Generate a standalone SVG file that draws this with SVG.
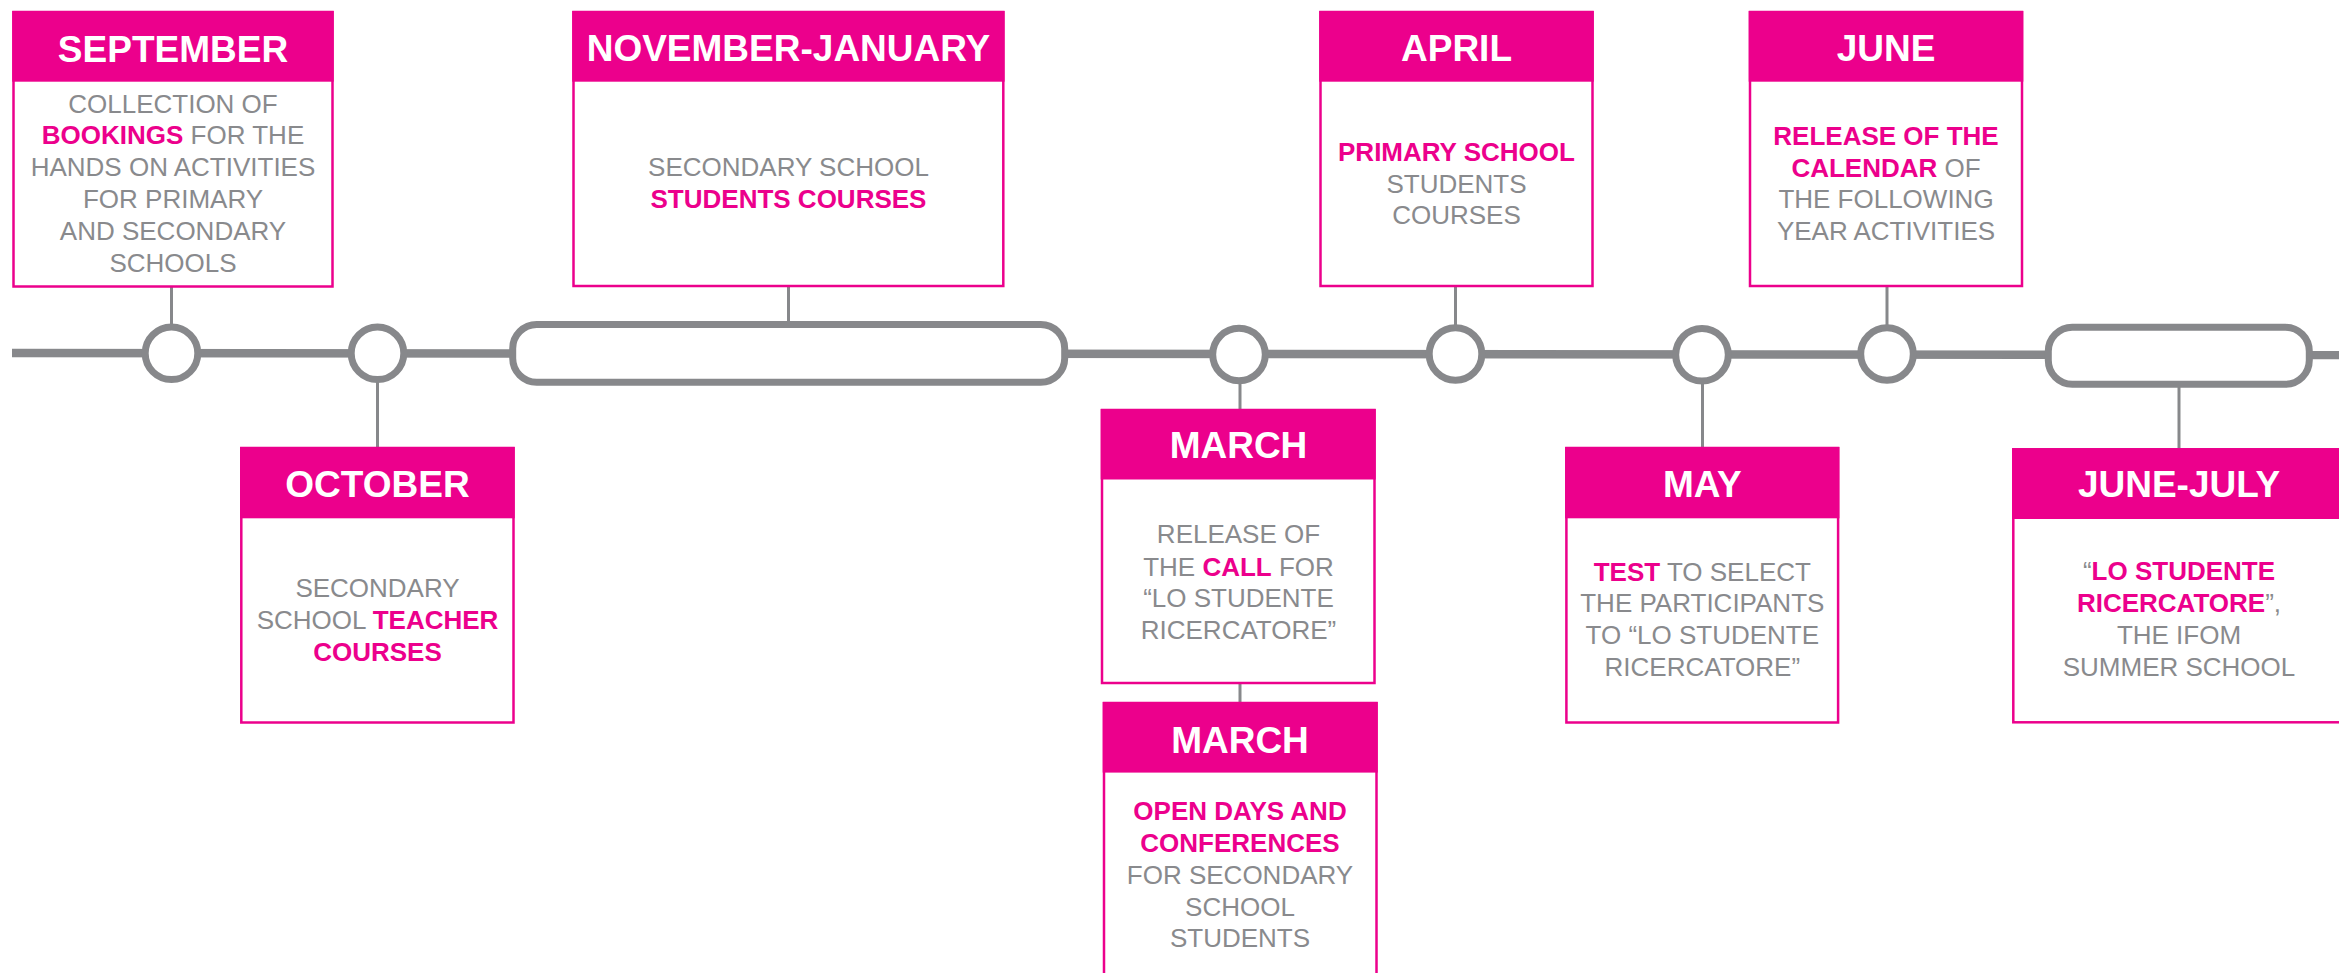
<svg xmlns="http://www.w3.org/2000/svg" width="2339" height="973" viewBox="0 0 2339 973">
<style>
.box{fill:#fff;stroke:#EC008C;stroke-width:2.5}
.hdr{fill:#EC008C}
.ht{font-family:"Liberation Sans",Arial,sans-serif;font-weight:bold;font-size:37px;fill:#fff;text-anchor:middle}
.bt{font-family:"Liberation Sans",Arial,sans-serif;font-size:26px;fill:#898A8D;text-anchor:middle}
.pk{font-weight:bold;fill:#EC008C}
.tl{stroke:#87888B;stroke-width:8.5;fill:none}
.node{fill:#fff;stroke:#87888B;stroke-width:7}
.con{stroke:#87888B;stroke-width:3;fill:none}
</style>
<rect width="2339" height="973" fill="#fff"/>
<g id="connectors">
<line class="tl" x1="12" y1="353" x2="2339" y2="355"/>
<line class="con" x1="171.5" y1="286" x2="171.5" y2="326"/>
<line class="con" x1="377.5" y1="380" x2="377.5" y2="447"/>
<line class="con" x1="788.5" y1="286" x2="788.5" y2="324"/>
<line class="con" x1="1240" y1="380" x2="1240" y2="409"/>
<line class="con" x1="1240" y1="684" x2="1240" y2="702"/>
<line class="con" x1="1455.5" y1="286" x2="1455.5" y2="327"/>
<line class="con" x1="1702.5" y1="381" x2="1702.5" y2="447"/>
<line class="con" x1="1887" y1="286" x2="1887" y2="327"/>
<line class="con" x1="2179" y1="385" x2="2179" y2="448"/>
</g>
<g id="timeline-markers">
<circle id="m-sep" class="node" cx="171.5" cy="353.3" r="26.3"/>
<circle id="m-oct" class="node" cx="377.5" cy="353.3" r="26.3"/>
<rect id="m-novjan" class="node" x="512.7" y="324.5" width="552" height="57.7" rx="24"/>
<circle id="m-mar" class="node" cx="1239" cy="354.5" r="26.3"/>
<circle id="m-apr" class="node" cx="1455.5" cy="354" r="26.3"/>
<circle id="m-may" class="node" cx="1702" cy="354.8" r="26.3"/>
<circle id="m-jun" class="node" cx="1887" cy="354" r="26.3"/>
<rect id="m-junjul" class="node" x="2048.3" y="327.3" width="261" height="57" rx="24"/>
</g>
<g id="september">
<rect class="box" x="13.5" y="12" width="319" height="274.5"/>
<rect class="hdr" x="12.2" y="11" width="321.5" height="70.7"/>
<text class="ht" x="173" y="61.5">SEPTEMBER</text>
<text class="bt" x="173" y="112.7">COLLECTION OF</text>
<text class="bt" x="173" y="144.3"><tspan class="pk">BOOKINGS</tspan> FOR THE</text>
<text class="bt" x="173" y="176">HANDS ON ACTIVITIES</text>
<text class="bt" x="173" y="208.3">FOR PRIMARY</text>
<text class="bt" x="173" y="240">AND SECONDARY</text>
<text class="bt" x="173" y="271.7">SCHOOLS</text>
</g>
<g id="october">
<rect class="box" x="241.3" y="448" width="272.2" height="274.5"/>
<rect class="hdr" x="240" y="447" width="274.7" height="71.3"/>
<text class="ht" x="377.5" y="496.7">OCTOBER</text>
<text class="bt" x="377.5" y="596.7">SECONDARY</text>
<text class="bt" x="377.5" y="629">SCHOOL <tspan class="pk">TEACHER</tspan></text>
<text class="bt" x="377.5" y="660.7"><tspan class="pk">COURSES</tspan></text>
</g>
<g id="november-january">
<rect class="box" x="573.5" y="12" width="429.8" height="274"/>
<rect class="hdr" x="572.2" y="11" width="432.4" height="70.7"/>
<text class="ht" x="788.5" y="60.5">NOVEMBER-JANUARY</text>
<text class="bt" x="788.5" y="176">SECONDARY SCHOOL</text>
<text class="bt" x="788.5" y="208.3"><tspan class="pk">STUDENTS COURSES</tspan></text>
</g>
<g id="march-call">
<rect class="box" x="1102" y="410" width="272.5" height="273"/>
<rect class="hdr" x="1100.7" y="409" width="275" height="70.5"/>
<text class="ht" x="1238.5" y="458.3">MARCH</text>
<text class="bt" x="1238.5" y="543.4">RELEASE OF</text>
<text class="bt" x="1238.5" y="575.5">THE <tspan class="pk">CALL</tspan> FOR</text>
<text class="bt" x="1238.5" y="607.3">“LO STUDENTE</text>
<text class="bt" x="1238.5" y="639.1">RICERCATORE”</text>
</g>
<g id="march-open-days">
<rect class="box" x="1104" y="703" width="272.5" height="290"/>
<rect class="hdr" x="1102.7" y="702" width="275" height="70.6"/>
<text class="ht" x="1240" y="752.5">MARCH</text>
<text class="bt" x="1240" y="819.9"><tspan class="pk">OPEN DAYS AND</tspan></text>
<text class="bt" x="1240" y="851.6"><tspan class="pk">CONFERENCES</tspan></text>
<text class="bt" x="1240" y="883.8">FOR SECONDARY</text>
<text class="bt" x="1240" y="915.9">SCHOOL</text>
<text class="bt" x="1240" y="947.3">STUDENTS</text>
</g>
<g id="april">
<rect class="box" x="1320.5" y="12" width="272" height="274"/>
<rect class="hdr" x="1319.2" y="11" width="274.6" height="70.7"/>
<text class="ht" x="1456.5" y="60.5">APRIL</text>
<text class="bt" x="1456.5" y="160.7"><tspan class="pk">PRIMARY SCHOOL</tspan></text>
<text class="bt" x="1456.5" y="192.7">STUDENTS</text>
<text class="bt" x="1456.5" y="224.3">COURSES</text>
</g>
<g id="may">
<rect class="box" x="1566.4" y="448" width="271.7" height="274.5"/>
<rect class="hdr" x="1565.1" y="447" width="274.3" height="71.3"/>
<text class="ht" x="1702.3" y="496.7">MAY</text>
<text class="bt" x="1702.3" y="580.7"><tspan class="pk">TEST</tspan> TO SELECT</text>
<text class="bt" x="1702.3" y="612.3">THE PARTICIPANTS</text>
<text class="bt" x="1702.3" y="644.3">TO “LO STUDENTE</text>
<text class="bt" x="1702.3" y="676">RICERCATORE”</text>
</g>
<g id="june">
<rect class="box" x="1750" y="12" width="272" height="274"/>
<rect class="hdr" x="1748.7" y="11" width="274.6" height="70.7"/>
<text class="ht" x="1886" y="60.5">JUNE</text>
<text class="bt" x="1886" y="145"><tspan class="pk">RELEASE OF THE</tspan></text>
<text class="bt" x="1886" y="176.7"><tspan class="pk">CALENDAR</tspan> OF</text>
<text class="bt" x="1886" y="208.3">THE FOLLOWING</text>
<text class="bt" x="1886" y="240">YEAR ACTIVITIES</text>
</g>
<g id="june-july">
<rect class="box" x="2013.3" y="449.3" width="332" height="273"/>
<rect class="hdr" x="2012" y="448.3" width="334.6" height="70.7"/>
<text class="ht" x="2179" y="497">JUNE-JULY</text>
<text class="bt" x="2179" y="580">“<tspan class="pk">LO STUDENTE</tspan></text>
<text class="bt" x="2179" y="612"><tspan class="pk">RICERCATORE</tspan>”,</text>
<text class="bt" x="2179" y="644.3">THE IFOM</text>
<text class="bt" x="2179" y="676">SUMMER SCHOOL</text>
</g>
</svg>
